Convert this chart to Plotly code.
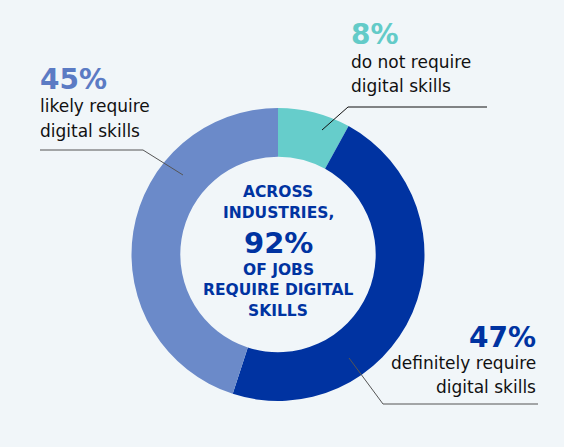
import plotly.graph_objects as go

# Share of jobs by digital skill requirement
labels = ['do not require digital skills',
          'definitely require digital skills',
          'likely require digital skills']
shares = [8, 47, 45]
colors = ['#66CDCB', '#0033A1', '#6B8AC9']

W, H = 564, 447
BG = '#F1F6F9'
DARK = '#0033A1'


def px(x):
    return x / W


def py(y):
    return 1 - y / H


trace = go.Pie(
    labels=labels,
    values=shares,
    sort=False,
    direction='clockwise',
    rotation=0,
    hole=0.667,
    marker=dict(colors=colors, line=dict(width=0)),
    textinfo='none',
    hoverinfo='label+percent',
    domain=dict(x=[px(131), px(425)], y=[py(401), py(108)]),
)

fig = go.Figure(trace)

font = 'DejaVu Sans'
annotations = []

# Centre text
centre = [('ACROSS', 192, 15.5), ('INDUSTRIES,', 213, 15.5), ('92%', 243, 29),
          ('OF JOBS', 270, 15.5), ('REQUIRE DIGITAL', 290, 15.5), ('SKILLS', 311, 15.5)]
for txt, y, size in centre:
    annotations.append(dict(
        x=px(278), y=py(y), xref='paper', yref='paper', text=f'<b>{txt}</b>',
        showarrow=False, xanchor='center', yanchor='middle', borderpad=0,
        font=dict(family=font, size=size, color=DARK),
    ))

# Outer labels: (pct, desc lines, x, y_pct, y_lines, anchor, color)
outer = [
    (f'{shares[2]}%', ['likely require', 'digital skills'], 40, 79, [106, 131], 'left', '#5B7BC4'),
    (f'{shares[0]}%', ['do not require', 'digital skills'], 351, 35, [62, 86], 'left', '#63CBC8'),
    (f'{shares[1]}%', ['definitely require', 'digital skills'], 536, 337, [363, 387], 'right', DARK),
]
for pct, lines, x, y, ys, anchor, col in outer:
    shift = -1 if anchor == 'left' else 1
    annotations.append(dict(
        x=px(x + shift), y=py(y), xref='paper', yref='paper',
        text=f'<b>{pct}</b>', showarrow=False, xanchor=anchor, yanchor='middle',
        borderpad=0, font=dict(family=font, size=28, color=col),
    ))
    for line, yl in zip(lines, ys):
        annotations.append(dict(
            x=px(x + shift), y=py(yl), xref='paper', yref='paper',
            text=line, showarrow=False, xanchor=anchor, yanchor='middle',
            borderpad=0, font=dict(family=font, size=17, color='#111111'),
        ))

# Leader lines
leaders = [
    ([40, 143, 183], [150, 150, 175], '#555555'),
    ([322, 348, 487], [130, 107, 107], '#111111'),
    ([349, 383, 538], [358, 404, 404], '#555555'),
]
shapes = []
for xs, ys, col in leaders:
    path = 'M ' + ' L '.join(f'{px(a)},{py(b)}' for a, b in zip(xs, ys))
    shapes.append(dict(type='path', xref='paper', yref='paper', path=path,
                       line=dict(color=col, width=1)))

fig.update_layout(
    width=W,
    height=H,
    margin=dict(l=0, r=0, t=0, b=0),
    showlegend=False,
    paper_bgcolor=BG,
    plot_bgcolor=BG,
    annotations=annotations,
    shapes=shapes,
)

fig.write_html('out.html', config={'displayModeBar': False},
               post_script="document.body.style.margin='0';")
